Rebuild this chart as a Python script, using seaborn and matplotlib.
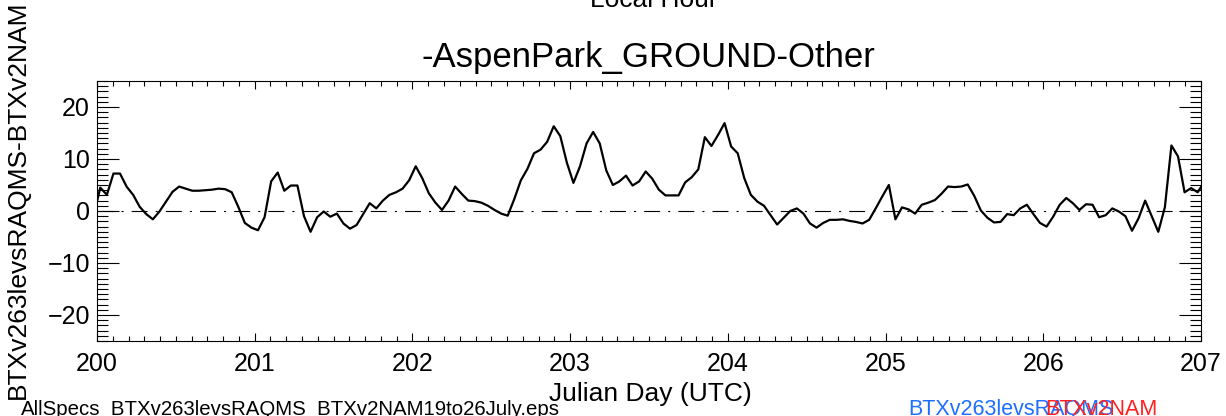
import matplotlib
matplotlib.use("Agg")
import matplotlib.pyplot as plt
from matplotlib.ticker import MultipleLocator
import numpy as np
import pandas as pd
import seaborn as sns

# hourly values (half past each hour), one list per Julian day
lead_value = [-0.9]
day200 = [4.5, 3.1, 7.2, 7.2, 4.7, 3.1, 0.8, -0.6, -1.6, -0.1, 1.8, 3.7,
          4.7, 4.3, 3.9, 3.9, 4.0, 4.1, 4.3, 4.2, 3.6, 0.8, -2.3, -3.2]
day201 = [-3.7, -1.2, 5.7, 7.4, 3.9, 4.9, 4.9, -1.0, -4.0, -1.2, -0.1, -1.1,
          -0.5, -2.4, -3.4, -2.7, -0.6, 1.5, 0.5, 2.0, 3.1, 3.6, 4.3, 5.9]
day202 = [8.6, 6.3, 3.4, 1.6, 0.2, 2.0, 4.7, 3.3, 2.0, 1.9, 1.6, 1.0,
          0.2, -0.5, -0.9, 2.3, 5.9, 8.1, 11.1, 11.8, 13.3, 16.3, 14.4, 9.3]
day203 = [5.4, 8.6, 13.0, 15.2, 13.0, 7.8, 5.0, 5.7, 6.8, 4.9, 5.7, 7.6,
          6.2, 4.1, 3.0, 3.0, 3.0, 5.5, 6.5, 8.0, 14.2, 12.5, 14.6, 16.9]
day204 = [12.4, 11.1, 6.3, 3.1, 1.8, 1.0, -0.8, -2.6, -1.3, 0.0, 0.5, -0.5,
          -2.4, -3.2, -2.3, -1.7, -1.7, -1.6, -1.9, -2.1, -2.4, -1.7, 0.5, 2.8]
day205 = [5.0, -1.6, 0.7, 0.3, -0.5, 1.2, 1.6, 2.1, 3.3, 4.7, 4.6, 4.7,
          5.1, 2.9, 0.1, -1.3, -2.2, -2.1, -0.6, -0.8, 0.5, 1.2, -0.6, -2.3]
day206 = [-3.0, -1.1, 1.2, 2.5, 1.5, 0.2, 1.3, 1.2, -1.2, -0.8, 0.5, -0.1,
          -1.0, -3.8, -1.4, 2.0, -1.0, -4.0, 0.7, 12.6, 10.5, 3.6, 4.4, 3.6]
trail_value = [5.6]

first_day = 200
x_ticks = [200, 201, 202, 203, 204, 205, 206, 207]
y_ticks = [-20, -10, 0, 10, 20]

values = (lead_value + day200 + day201 + day202 + day203 + day204
          + day205 + day206 + trail_value)
hours = np.arange(len(values)) - 0.5  # lead point sits half an hour before day 200
df = pd.DataFrame({"day": first_day + hours / 24.0, "diff": values})

sns.set_theme(style="ticks")
plt.rcParams["font.family"] = ["Liberation Sans", "DejaVu Sans"]
plt.rcParams["lines.scale_dashes"] = False
plt.rcParams["text.color"] = "black"
plt.rcParams["axes.labelcolor"] = "black"

fig = plt.figure(figsize=(12.26, 4.16), dpi=100)
ax = fig.add_axes([97 / 1226, 75 / 416, 1104 / 1226, 260 / 416])

ax.plot([200, 207], [0, 0], color="black", lw=0.8,
        linestyle=(0, (11.5, 5.8, 1.5, 5.8)))
sns.lineplot(data=df, x="day", y="diff", ax=ax, color="black", lw=1.6,
             estimator=None, sort=False)

ax.set_xlim(200, 207)
ax.set_ylim(-25, 25)
ax.set_xticks(x_ticks)
ax.set_yticks(y_ticks)
ax.xaxis.set_minor_locator(MultipleLocator(0.1))
ax.yaxis.set_minor_locator(MultipleLocator(1))
ax.tick_params(axis="x", which="major", direction="in", length=6, width=0.8,
               top=True, labelsize=18, pad=8, colors="black")
ax.tick_params(axis="x", which="minor", direction="in", length=3.5, width=0.8,
               top=True, colors="black")
ax.tick_params(axis="y", which="major", direction="in", length=16, width=0.8,
               right=True, labelsize=18, pad=5, colors="black")
ax.tick_params(axis="y", which="minor", direction="in", length=8, width=0.8,
               right=True, colors="black")
for sp in ax.spines.values():
    sp.set_linewidth(0.8)
    sp.set_color("black")

ax.set_xlabel("")
ax.set_ylabel("")

fig.text(18 / 1226, 1 - 200 / 416, "BTXv263levsRAQMS-BTXv2NAM", rotation=90,
         ha="center", va="center", fontsize=19)
fig.text(650 / 1226, 1 - 394 / 416, "Julian Day (UTC)", ha="center",
         va="center", fontsize=19)
fig.text(648 / 1226, 1 - 67 / 416, "-AspenPark_GROUND-Other", ha="center",
         va="baseline", fontsize=25)
fig.text(654 / 1226, 1 - 7 / 416, "Local Hour", ha="center", va="baseline",
         fontsize=19)
fig.text(21 / 1226, 1 - 415 / 416,
         "AllSpecs_BTXv263levsRAQMS_BTXv2NAM19to26July.eps",
         ha="left", va="baseline", fontsize=14.7)
fig.text(908 / 1226, 1 - 415 / 416, "BTXv263levsRAQMS", color="#1f6fff",
         ha="left", va="baseline", fontsize=15.5)
fig.text(1045 / 1226, 1 - 415 / 416, "BTXv2NAM", color="#ff2020",
         ha="left", va="baseline", fontsize=15.5)

fig.savefig("out.png", dpi=100)
